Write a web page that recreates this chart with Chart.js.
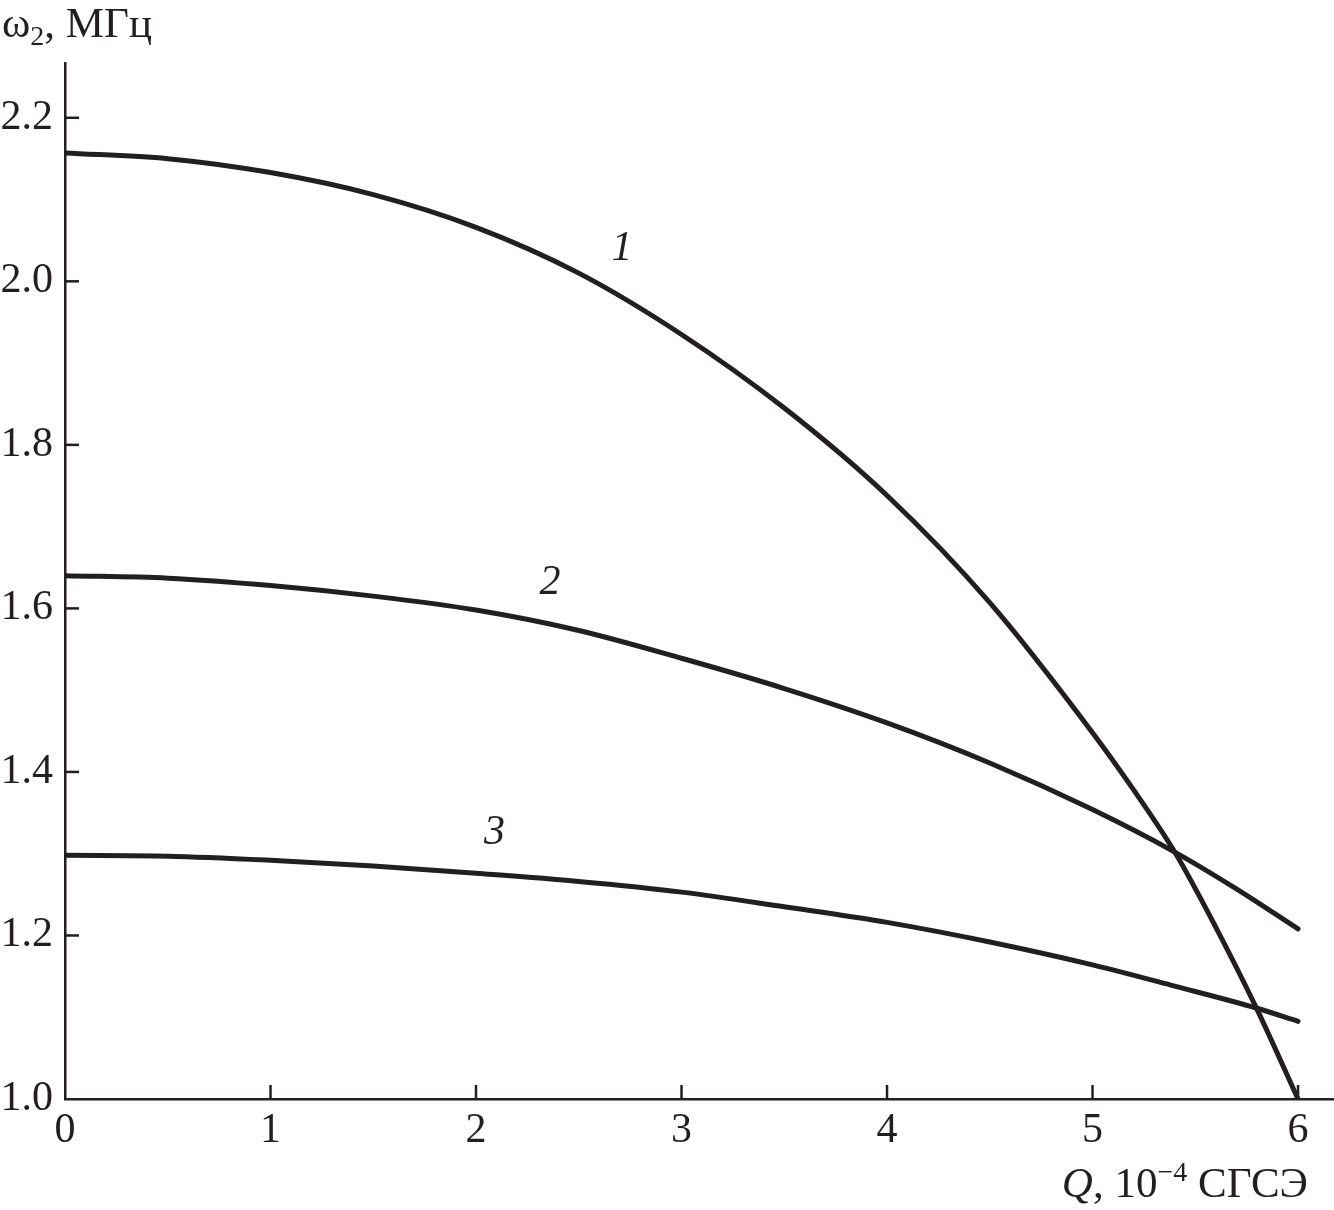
<!DOCTYPE html>
<html>
<head>
<meta charset="utf-8">
<script src="https://cdn.jsdelivr.net/npm/chart.js@4.4.0/dist/chart.umd.min.js"></script>
<style>
    html, body { margin: 0; padding: 0; background: #fff; }
    #wrap { width: 1334px; height: 1210px; position: relative; }
</style>
</head>
<body>
<div id="wrap"><canvas id="chart"></canvas></div>
<script>
// values
const Q_1 = [0, 0.5, 1, 1.5, 2, 2.5, 3, 3.5, 4, 4.5, 5, 5.2, 5.4, 5.6, 5.8, 6];
const W_1 = [2.157, 2.150, 2.133, 2.106, 2.066, 2.010, 1.935, 1.845, 1.738, 1.607, 1.448, 1.378, 1.302, 1.210, 1.110, 1.0];

const Q_2 = [0, 0.5, 1, 1.5, 2, 2.5, 3, 3.5, 4, 4.5, 5, 5.4, 5.7, 6];
const W_2 = [1.640, 1.637, 1.628, 1.615, 1.598, 1.573, 1.539, 1.502, 1.460, 1.411, 1.354, 1.302, 1.257, 1.208];

const Q_3 = [0, 0.5, 1, 1.5, 2, 2.5, 3, 3.5, 4, 4.5, 5, 5.4, 5.8, 6];
const W_3 = [1.298, 1.297, 1.292, 1.285, 1.276, 1.266, 1.253, 1.235, 1.216, 1.192, 1.164, 1.138, 1.111, 1.095];

const X_TICKS = [0, 1, 2, 3, 4, 5, 6];
const Y_TICKS = [1.0, 1.2, 1.4, 1.6, 1.8, 2.0, 2.2];

const CURVE_NAMES = ['1', '2', '3'];
const NAME_Q = [2.71, 2.36, 2.09];
const NAME_W = [2.04, 1.631, 1.325];

const INK = '#231f20';
const SERIF = '"Liberation Serif", "DejaVu Serif", serif';

function toPoints(xs, ys){
    return xs.map((x, i) => ({ x: x, y: ys[i] }));
}

function curve(xs, ys){
    return {
        data: toPoints(xs, ys),
        borderColor: INK,
        borderWidth: 5,
        pointRadius: 0,
        fill: false,
        cubicInterpolationMode: 'monotone',
        borderCapStyle: 'round'
    };
}

// inward tick marks, curve numbers and axis titles
const decorations = {
    id: 'decorations',
    afterDraw(chart){
        const ctx = chart.ctx;
        const xs = chart.scales.x;
        const ys = chart.scales.y;
        const area = chart.chartArea;

        ctx.save();
        ctx.strokeStyle = INK;
        ctx.lineWidth = 2.5;
        X_TICKS.forEach(v => {
            if(v === 0) return;
            const px = xs.getPixelForValue(v);
            ctx.beginPath();
            ctx.moveTo(px, area.bottom);
            ctx.lineTo(px, area.bottom - 14);
            ctx.stroke();
        });
        Y_TICKS.forEach(v => {
            if(v === 1.0) return;
            const py = ys.getPixelForValue(v);
            ctx.beginPath();
            ctx.moveTo(area.left, py);
            ctx.lineTo(area.left + 14, py);
            ctx.stroke();
        });

        ctx.fillStyle = INK;
        ctx.textAlign = 'center';
        ctx.textBaseline = 'middle';
        ctx.font = 'italic 42px ' + SERIF;
        CURVE_NAMES.forEach((name, i) => {
            ctx.fillText(name, xs.getPixelForValue(NAME_Q[i]), ys.getPixelForValue(NAME_W[i]));
        });

        // y title: ω2, МГц
        ctx.textAlign = 'left';
        ctx.textBaseline = 'alphabetic';
        let x = 2;
        ctx.font = '43px ' + SERIF;
        ctx.fillText('ω', x, 37);
        x += ctx.measureText('ω').width;
        ctx.font = '28px ' + SERIF;
        ctx.fillText('2', x, 45);
        x += ctx.measureText('2').width;
        ctx.font = '43px ' + SERIF;
        ctx.fillText(', МГц', x, 37);

        // x title: Q, 10^-4 СГСЭ (right aligned)
        const parts = [
            { t: 'Q', f: 'italic 43px ' + SERIF, dy: 0 },
            { t: ', 10', f: '43px ' + SERIF, dy: 0 },
            { t: '−4', f: '28px ' + SERIF, dy: -16 },
            { t: ' СГСЭ', f: '43px ' + SERIF, dy: 0 }
        ];
        let total = 0;
        parts.forEach(p => { ctx.font = p.f; p.w = ctx.measureText(p.t).width; total += p.w; });
        x = 1308 - total;
        parts.forEach(p => {
            ctx.font = p.f;
            ctx.fillText(p.t, x, 1197 + p.dy);
            x += p.w;
        });
        ctx.restore();
    }
};

const config = {
    type: 'line',
    data: {
        datasets: [curve(Q_1, W_1), curve(Q_2, W_2), curve(Q_3, W_3)]
    },
    options: {
        responsive: true,
        maintainAspectRatio: false,
        animation: false,
        layout: { padding: { top: 63, left: 0, right: 0, bottom: 0 } },
        plugins: {
            legend: { display: false },
            tooltip: { enabled: false }
        },
        scales: {
            x: {
                type: 'linear',
                min: 0,
                max: 6.175,
                afterFit(s){ s.height = 111; },
                afterBuildTicks(s){ s.ticks = X_TICKS.map(v => ({ value: v })); },
                grid: { display: false, drawTicks: false },
                border: { display: true, color: INK, width: 2.5 },
                ticks: {
                    color: INK,
                    padding: 7,
                    maxRotation: 0,
                    font: { family: SERIF, size: 42 },
                    callback: v => String(v)
                }
            },
            y: {
                type: 'linear',
                min: 1.0,
                max: 2.267,
                afterFit(s){ s.width = 65; },
                afterBuildTicks(s){ s.ticks = Y_TICKS.map(v => ({ value: v })); },
                grid: { display: false, drawTicks: false },
                border: { display: true, color: INK, width: 2.5 },
                ticks: {
                    color: INK,
                    padding: 12,
                    font: { family: SERIF, size: 42 },
                    callback: v => v.toFixed(1)
                }
            }
        }
    },
    plugins: [decorations]
};

new Chart(document.getElementById('chart').getContext('2d'), config);
</script>
</body>
</html>
